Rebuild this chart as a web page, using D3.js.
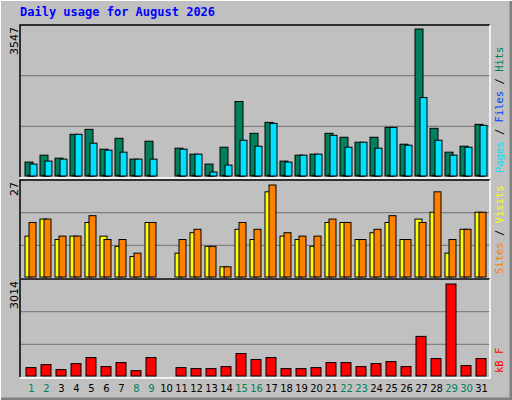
<!DOCTYPE html>
<html><head><meta charset="utf-8">
<script src="https://cdn.jsdelivr.net/npm/d3@7"></script>
<style>body{margin:0;background:#fff}</style></head>
<body><svg id="c" width="512" height="400"></svg>
<script>
const days = d3.range(1, 32);
const weekendDays = [1,2,8,9,15,16,22,23,29,30];
const hits  = [336,503,431,1006,1126,647,910,407,839,0,671,527,288,695,1797,1030,1294,360,503,527,1030,935,815,935,1174,767,3547,1150,575,719,1246];
const files = [20,20,20,20,20,20,20,20,20,0,20,20,20,20,20,20,20,20,20,20,20,20,20,20,20,20,20,20,20,20,20];
const pages = [288,360,407,1006,791,623,575,407,407,0,647,527,96,264,863,719,1270,336,503,527,982,695,815,671,1174,743,1893,863,503,695,1222];
const visits = [12,17,11,12,16,12,9,6,16,0,7,13,9,3,14,11,25,12,11,9,16,16,11,13,16,11,17,19,7,14,19];
const sites  = [16,17,12,12,18,11,11,7,16,0,11,14,9,3,16,14,27,13,12,12,17,16,11,14,18,11,16,25,11,14,19];
const kbytes = [275,374,209,407,605,308,440,176,605,0,275,242,242,308,737,539,605,242,242,275,440,440,308,407,473,308,1298,572,3014,341,572];
const maxLabels = ["3547","27","3014"];

const svg = d3.select("#c");
const W=512,H=400;
svg.append("rect").attr("width",W).attr("height",H).attr("fill","#c0c0c0");
svg.append("path").attr("d",`M0,${H} V0 H${W}`).attr("stroke","#fff").attr("stroke-width",2).attr("fill","none");
svg.append("path").attr("d",`M1,${H-1} H${W-1} V1`).attr("stroke","#808080").attr("stroke-width",3).attr("fill","none");
svg.append("text").attr("x",20).attr("y",16).attr("font-family","DejaVu Sans Mono").attr("font-weight","bold")
  .attr("font-size",12).attr("fill","#0000ff").text("Daily usage for August 2026");

const x = d3.scaleBand().domain(days).range([20,485]).paddingInner(0);
const X0=20,X1=490;
function panel(top,bottom,max,label,legend){
  svg.append("rect").attr("x",X0).attr("y",top).attr("width",X1-X0).attr("height",bottom-top).attr("fill","#c0c0c0");
  [1,2].forEach(k=>{const gy=bottom-(bottom-top)*k/3; svg.append("line").attr("x1",X0).attr("x2",X1).attr("y1",gy).attr("y2",gy).attr("stroke","#808080").attr("stroke-width",1.3);});
  svg.append("path").attr("d",`M${X0},${bottom} V${top} H${X1}`).attr("stroke","#000").attr("stroke-width",1.5).attr("fill","none");
  svg.append("path").attr("d",`M${X0},${bottom+1} H${X1} V${top}`).attr("stroke","#fff").attr("stroke-width",1.5).attr("fill","none");
  svg.append("text").attr("transform",`translate(18,${top+2}) rotate(-90)`).attr("text-anchor","end")
    .attr("font-family","DejaVu Sans").attr("font-size",11).attr("fill","#000").text(label);
  const t=svg.append("text").attr("transform",`translate(503,${bottom-4}) rotate(-90)`)
    .attr("font-family","DejaVu Sans Mono").attr("font-size",10.5);
  legend.forEach(([s,c])=>t.append("tspan").attr("fill",c).text(s));
}
function bars(data,y,color,dx,w){
  svg.append("g").selectAll("rect").data(data.map((v,i)=>[days[i],v]).filter(d=>d[1]>0)).join("rect")
    .attr("x",d=>x(d[0])+dx).attr("width",w).attr("y",d=>y(d[1])).attr("height",d=>y(0)-y(d[1]))
    .attr("fill",color).attr("stroke","#000").attr("stroke-width",1);
}
panel(25,177,3547,maxLabels[0],[["Pages","#00e0ff"],[" / ","#000"],["Files","#0040ff"],[" / ","#000"],["Hits","#00805c"]]);
const y1=d3.scaleLinear().domain([0,3547]).range([176,29]);
bars(hits,y1,"#00805c",5,8); bars(files,y1,"#0040ff",8,7); bars(pages,y1,"#00e0ff",10,7);
panel(180,278,27,maxLabels[1],[["Sites","#ff8000"],[" / ","#000"],["Visits","#ffff00"]]);
const y2=d3.scaleLinear().domain([0,27]).range([277,185]);
bars(visits,y2,"#ffff00",5,7); bars(sites,y2,"#ff8000",9,7);
panel(279,377,3014,maxLabels[2],[["kB F","#ff0000"]]);
const y3=d3.scaleLinear().domain([0,3014]).range([376,284]);
bars(kbytes,y3,"#ff0000",6,10);
svg.append("g").selectAll("text").data(days).join("text")
  .attr("x",d=>x(d)+x.bandwidth()/2+4).attr("y",392).attr("text-anchor","middle")
  .attr("font-family","DejaVu Sans").attr("font-size",10)
  .attr("fill",d=>weekendDays.includes(d)?"#00805c":"#000").text(d=>d);
</script></body></html>
